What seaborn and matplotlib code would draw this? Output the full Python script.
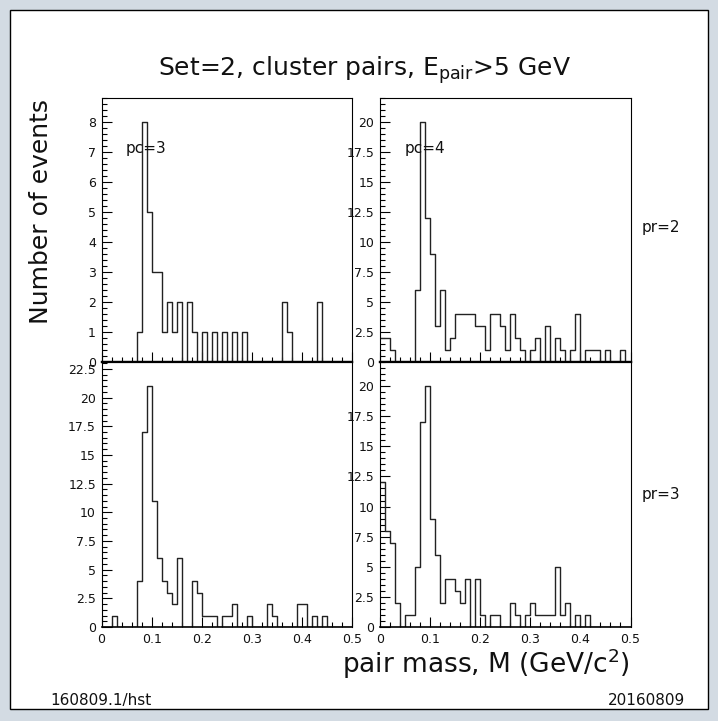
import numpy as np
import pandas as pd
import matplotlib
matplotlib.use("Agg")
import matplotlib.pyplot as plt
from matplotlib.patches import Rectangle
from matplotlib.ticker import MultipleLocator, FuncFormatter
import seaborn as sns

# Pair-mass histograms: 50 bins of 10 MeV/c^2 from 0 to 0.5 GeV/c^2
bin_width = 0.01
mass_range = (0.0, 0.5)
bin_centers = np.arange(50) * bin_width + bin_width / 2

counts_pr2_pc3 = [0, 0, 0, 0, 0, 0, 0, 1, 8, 5,
                  3, 3, 1, 2, 1, 2, 0, 2, 1, 0,
                  1, 0, 1, 0, 1, 0, 1, 0, 1, 0,
                  0, 0, 0, 0, 0, 0, 2, 1, 0, 0,
                  0, 0, 0, 2, 0, 0, 0, 0, 0, 0]
counts_pr2_pc4 = [2, 2, 1, 0, 0, 0, 0, 6, 20, 12,
                  9, 3, 6, 1, 2, 4, 4, 4, 4, 3,
                  3, 1, 4, 4, 3, 1, 4, 2, 1, 0,
                  1, 2, 0, 3, 0, 2, 1, 0, 1, 4,
                  0, 1, 1, 1, 0, 1, 0, 0, 1, 0]
counts_pr3_pc3 = [0, 0, 1, 0, 0, 0, 0, 4, 17, 21,
                  11, 6, 4, 3, 2, 6, 0, 0, 4, 3,
                  1, 1, 1, 0, 1, 1, 2, 0, 0, 1,
                  0, 0, 0, 2, 1, 0, 0, 0, 0, 2,
                  2, 0, 1, 0, 1, 0, 0, 0, 0, 0]
counts_pr3_pc4 = [12, 8, 7, 2, 0, 1, 1, 5, 17, 20,
                  9, 6, 2, 4, 4, 3, 2, 4, 0, 4,
                  1, 0, 1, 1, 0, 0, 2, 1, 0, 1,
                  2, 1, 1, 1, 1, 5, 1, 2, 0, 1,
                  0, 1, 0, 0, 0, 0, 0, 0, 0, 0]

title_text = r"Set=2, cluster pairs, $\mathregular{E_{pair}}$>5 GeV"
ylabel_text = "Number of events"
xlabel_text = r"pair mass, M (GeV/c$\mathregular{^2}$)"
footer_left = "160809.1/hst"
footer_right = "20160809"

sns.set_style("ticks")
plt.rcParams["font.family"] = ["DejaVu Sans"]
plt.rcParams["mathtext.fontset"] = "dejavusans"

W, H = 718, 721
BG = "#d3dbe3"
INK = "#111111"
fig = plt.figure(figsize=(W / 100, H / 100), dpi=100, facecolor=BG)

# white page with a thin black frame, kept behind the panels
fig.patches.append(Rectangle((10 / W, 1 - 709 / H), 698 / W, 699 / H,
                             transform=fig.transFigure, facecolor="white",
                             edgecolor="black", linewidth=1.0, zorder=-10))


def add_panel(x0, y0, x1, y1):
    return fig.add_axes([x0 / W, 1 - y1 / H, (x1 - x0) / W, (y1 - y0) / H])


def fmt(v, pos):
    return "%g" % round(v, 3)


panels = [
    (counts_pr2_pc3, (101.5, 98, 352, 362), True, 1.0, 0.2),
    (counts_pr2_pc4, (380, 98, 630.5, 362), True, 2.5, 0.5),
    (counts_pr3_pc3, (101.5, 362, 352, 627), False, 2.5, 0.5),
    (counts_pr3_pc4, (380, 362, 630.5, 627), False, 2.5, 0.5),
]

for counts, box, is_top, ymaj, ymin in panels:
    ax = add_panel(*box)
    ax.set_facecolor("white")
    df = pd.DataFrame({"mass": bin_centers, "n": counts})
    sns.histplot(data=df, x="mass", weights="n", binwidth=bin_width,
                 binrange=mass_range, element="step", fill=False,
                 color="#222222", linewidth=1.0, ax=ax)
    ax.set_xlim(*mass_range)
    ax.set_ylim(0, 1.1 * max(counts))
    ax.set_xlabel("")
    ax.set_ylabel("")
    ax.xaxis.set_major_locator(MultipleLocator(0.1))
    ax.xaxis.set_minor_locator(MultipleLocator(0.02))
    ax.yaxis.set_major_locator(MultipleLocator(ymaj))
    ax.yaxis.set_minor_locator(MultipleLocator(ymin))
    ax.xaxis.set_major_formatter(FuncFormatter(fmt))
    ax.yaxis.set_major_formatter(FuncFormatter(fmt))
    ax.tick_params(axis="both", which="both", direction="in",
                   top=False, right=False, color="black", width=0.8)
    ax.tick_params(axis="both", which="major", length=7, labelsize=9,
                   labelcolor=INK)
    ax.tick_params(axis="both", which="minor", length=3.5)
    ax.tick_params(axis="y", pad=4)
    ax.tick_params(axis="x", pad=4)
    for s in ax.spines.values():
        s.set_visible(True)
        s.set_linewidth(0.8)
        s.set_color("black")
    if is_top:
        ax.tick_params(axis="x", labelbottom=False)
        ax.spines["bottom"].set_linewidth(1.6)
    else:
        ax.spines["top"].set_linewidth(1.6)
        ax.spines["bottom"].set_linewidth(1.2)


def ftext(x, y, s, **kw):
    fig.text(x / W, 1 - y / H, s, color=INK, **kw)


ftext(365, 70, title_text, ha="center", va="center", fontsize=18)
ftext(41, 211, ylabel_text, ha="center", va="center", rotation=90, fontsize=18)
ftext(630, 673, xlabel_text, ha="right", va="baseline", fontsize=19)
ftext(50, 705, footer_left, ha="left", va="baseline", fontsize=11)
ftext(685, 705, footer_right, ha="right", va="baseline", fontsize=11)
ftext(126, 149, "pc=3", ha="left", va="center", fontsize=11)
ftext(405, 149, "pc=4", ha="left", va="center", fontsize=11)
ftext(642, 227, "pr=2", ha="left", va="center", fontsize=11)
ftext(642, 494, "pr=3", ha="left", va="center", fontsize=11)

fig.savefig("out.png", dpi=100, facecolor=BG)
